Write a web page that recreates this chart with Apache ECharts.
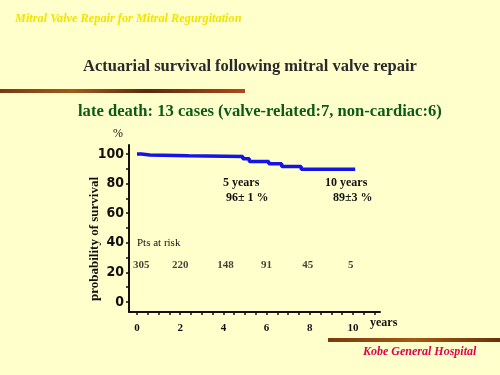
<!DOCTYPE html>
<html><head><meta charset="utf-8">
<script src="https://cdn.jsdelivr.net/npm/echarts@6/dist/echarts.min.js"></script>
<style>html,body{margin:0;padding:0;background:#ffffcc;}#c{width:500px;height:375px;}</style>
</head><body><div id="c"></div>
<script>
// survival curve (Kaplan-Meier style steps)
const survYears = [0, 0.2, 0.6, 2.4, 4.9, 5.2, 6.1, 6.7, 7.6, 10.1];
const survPct   = [100, 99.4, 98.9, 98.4, 96.8, 95.0, 93.4, 91.6, 89.7, 89.7];
// patients at risk
const riskYears  = [0.2, 2, 4.1, 6, 7.9, 9.9];
const riskCounts = [305, 220, 148, 91, 45, 5];
// axis ticks
const xTickLabels = [0, 2, 4, 6, 8, 10];
const xMinorTicks = [0,0.5,1,1.5,2,2.5,3,3.5,4,4.5,5,5.5,6,6.5,7,7.5,8,8.5,9,9.5,10,10.5,11];
const yTickLabels = [0, 20, 40, 60, 80, 100];
const yMinorTicks = [0, 10, 20, 30, 40, 50, 60, 70, 80, 90, 100];

const serif = '"Liberation Serif","Times New Roman",serif';
const chart = echarts.init(document.getElementById('c'), null, {renderer:'canvas'});
chart.setOption({
  backgroundColor: '#ffffcc',
  animation: false,
  grid: {left: 129, right: 120, top: 145, bottom: 63, containLabel: false},
  xAxis: {
    type: 'value', min: -0.37, max: 11.25,
    axisLine: {show: true, onZero: false, lineStyle: {color: '#111', width: 2}},
    axisTick: {show: true, length: 3, customValues: xMinorTicks, lineStyle: {color: '#111', width: 1.5}},
    axisLabel: {customValues: xTickLabels, margin: 11, color: '#111', fontFamily: serif, fontWeight: 'bold', fontSize: 11},
    splitLine: {show: false}
  },
  yAxis: {
    type: 'value', min: -6.76, max: 106.1,
    axisLine: {show: true, onZero: false, lineStyle: {color: '#111', width: 2}},
    axisTick: {show: true, length: 3, customValues: yMinorTicks, lineStyle: {color: '#111', width: 1.5}},
    axisLabel: {customValues: yTickLabels, margin: 5, color: '#111', fontFamily: '"Liberation Sans Narrow","DejaVu Sans Condensed",sans-serif', fontWeight: 'bold', fontSize: 14},
    splitLine: {show: false}
  },
  series: [
    {
      type: 'line', step: 'end', symbol: 'none',
      data: survYears.map((x, i) => [x, survPct[i]]),
      lineStyle: {color: '#1414e6', width: 3.5}
    },
    {
      type: 'scatter', symbolSize: 0,
      data: riskYears.map((x, i) => [x, 25, riskCounts[i]]),
      label: {show: true, position: 'inside', formatter: p => p.data[2], color: '#111', fontFamily: serif, fontWeight: 'bold', fontSize: 11}
    }
  ],
  graphic: [
    {type: 'text', left: 15, top: 13, style: {text: 'Mitral Valve Repair for Mitral Regurgitation', fill: '#f2e400', font: 'italic bold 12.3px ' + serif, textShadowColor: '#2a2000', textShadowOffsetX: 1, textShadowOffsetY: 1.5, textShadowBlur: 0}},
    {type: 'text', left: 'center', top: 58, style: {text: 'Actuarial survival following mitral valve repair', fill: '#2a2a2a', font: 'bold 16.5px ' + serif}},
    {type: 'rect', shape: {x: 0, y: 89, width: 245, height: 4}, style: {fill: new echarts.graphic.LinearGradient(0,0,1,0,[{offset:0,color:'#7a3a10'},{offset:0.3,color:'#a05a18'},{offset:0.6,color:'#5a2a08'},{offset:1,color:'#b04818'}])}},
    {type: 'text', left: 78, top: 103, style: {text: 'late death: 13 cases (valve-related:7, non-cardiac:6)', fill: '#0b5a16', font: 'bold 16.6px ' + serif}},
    {type: 'text', left: 113, top: 128, style: {text: '%', fill: '#111', font: '12px ' + serif}},
    {type: 'text', x: 95, y: 239, rotation: Math.PI / 2, style: {text: 'probability of survival', fill: '#111', font: 'bold 13px ' + serif, align: 'center', verticalAlign: 'middle'}},
    {type: 'text', left: 223, top: 177, style: {text: '5 years', fill: '#111', font: 'bold 12px ' + serif}},
    {type: 'text', left: 226, top: 192, style: {text: '96\u00b1 1 %', fill: '#111', font: 'bold 12px ' + serif}},
    {type: 'text', left: 325, top: 177, style: {text: '10 years', fill: '#111', font: 'bold 12px ' + serif}},
    {type: 'text', left: 333, top: 192, style: {text: '89\u00b13 %', fill: '#111', font: 'bold 12px ' + serif}},
    {type: 'text', left: 137, top: 238, style: {text: 'Pts at risk', fill: '#111', font: '11px ' + serif}},
    {type: 'text', left: 370, top: 317, style: {text: 'years', fill: '#111', font: 'bold 12px ' + serif}},
    {type: 'rect', shape: {x: 328, y: 338, width: 172, height: 4}, style: {fill: new echarts.graphic.LinearGradient(0,0,1,0,[{offset:0,color:'#7a3a10'},{offset:0.5,color:'#a05a18'},{offset:1,color:'#6a3008'}])}},
    {type: 'text', left: 363, top: 346, style: {text: 'Kobe General Hospital', fill: '#e0004c', font: 'italic bold 12px ' + serif, textShadowColor: '#300010', textShadowOffsetX: 1, textShadowOffsetY: 1, textShadowBlur: 0}}
  ]
});
</script></body></html>
